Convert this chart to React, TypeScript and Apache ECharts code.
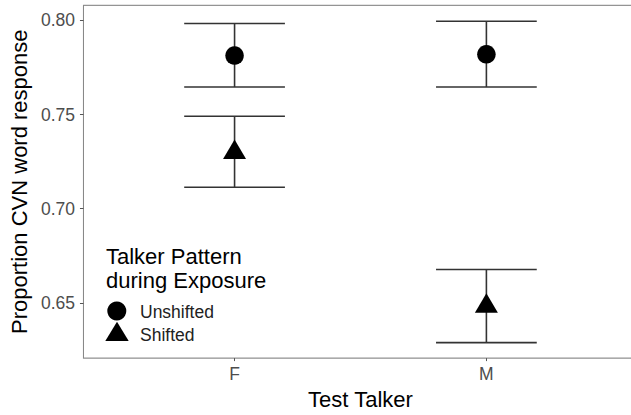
import React, { useEffect, useRef } from "react";
import * as echarts from "echarts";

const categories = ["F", "M"];
const yTicks = [0.65, 0.7, 0.75, 0.8];
const unshiftedMean = [0.7813, 0.782];
const unshiftedLow = [0.7646, 0.7646];
const unshiftedHigh = [0.7983, 0.7995];
const shiftedMean = [0.7316, 0.6499];
const shiftedLow = [0.7114, 0.6289];
const shiftedHigh = [0.7491, 0.6677];
const legendTitle = ["Talker Pattern", "during Exposure"];
const legendNames = ["Unshifted", "Shifted"];

const FONT = "'Liberation Sans', Arial, sans-serif";

export default function App() {
  const ref = useRef<HTMLDivElement>(null);
  useEffect(() => {
    if (!ref.current) return;
    const chart = echarts.init(ref.current, undefined, { renderer: "svg" });
    const errData: number[][] = [];
    categories.forEach((_, i) => {
      errData.push([i + 1, unshiftedLow[i], unshiftedHigh[i]]);
      errData.push([i + 1, shiftedLow[i], shiftedHigh[i]]);
    });
    const lineStyle = { stroke: "#333", lineWidth: 1.6 };
    chart.setOption({
      animation: false,
      textStyle: { fontFamily: FONT },
      grid: {
        left: 75.5,
        right: 12.5,
        top: 5.3,
        bottom: 48.3,
        show: true,
        borderColor: "#7a7a7a",
        borderWidth: 1,
        backgroundColor: "#fff",
      },
      xAxis: {
        type: "value",
        min: 0.4,
        max: 2.6,
        name: "Test Talker",
        nameLocation: "middle",
        nameGap: 21.5,
        nameTextStyle: { fontSize: 22, color: "#000", fontFamily: FONT },
        axisLine: { show: true, lineStyle: { color: "#aaa", width: 1.2 } },
        axisTick: { show: true, customValues: [1, 2], length: 3, lineStyle: { color: "#555" } },
        axisLabel: {
          customValues: [1, 2],
          formatter: (v: number) => categories[Math.round(v) - 1] ?? "",
          fontSize: 17.5,
          color: "#4d4d4d",
          margin: 7,
          fontFamily: FONT,
        },
        splitLine: { show: false },
      },
      yAxis: {
        type: "value",
        min: 0.6207,
        max: 0.808,
        name: "Proportion CVN word response",
        nameLocation: "middle",
        nameGap: 45,
        nameTextStyle: { fontSize: 22, color: "#000", fontFamily: FONT },
        axisLine: { show: true, lineStyle: { color: "#888", width: 1 } },
        axisTick: { show: true, customValues: yTicks, length: 3.5, lineStyle: { color: "#555" } },
        axisLabel: {
          customValues: yTicks,
          formatter: (v: number) => v.toFixed(2),
          fontSize: 17.5,
          color: "#4d4d4d",
          margin: 8.5,
          fontFamily: FONT,
        },
        splitLine: { show: false },
      },
      series: [
        {
          type: "custom",
          name: "errorbars",
          data: errData,
          renderItem: (params: any, api: any) => {
            const x = api.value(0);
            const lo = api.value(1);
            const hi = api.value(2);
            const pTop = api.coord([x, hi]);
            const pBot = api.coord([x, lo]);
            const lTop = api.coord([x - 0.2, hi]);
            const rTop = api.coord([x + 0.2, hi]);
            const lBot = api.coord([x - 0.2, lo]);
            const rBot = api.coord([x + 0.2, lo]);
            return {
              type: "group",
              children: [
                { type: "line", shape: { x1: pTop[0], y1: pTop[1], x2: pBot[0], y2: pBot[1] }, style: lineStyle },
                { type: "line", shape: { x1: lTop[0], y1: lTop[1], x2: rTop[0], y2: rTop[1] }, style: lineStyle },
                { type: "line", shape: { x1: lBot[0], y1: lBot[1], x2: rBot[0], y2: rBot[1] }, style: lineStyle },
              ],
            };
          },
          z: 1,
        },
        {
          type: "scatter",
          name: legendNames[0],
          symbol: "circle",
          symbolSize: 18.5,
          itemStyle: { color: "#000", opacity: 1 },
          data: unshiftedMean.map((v, i) => [i + 1, v]),
          z: 3,
        },
        {
          type: "scatter",
          name: legendNames[1],
          symbol: "triangle",
          symbolSize: [23, 19.5],
          itemStyle: { color: "#000", opacity: 1 },
          data: shiftedMean.map((v, i) => [i + 1, v]),
          z: 3,
        },
      ],
      graphic: [
        {
          type: "text",
          left: 106,
          top: 244,
          style: {
            text: legendTitle.join("\n"),
            fontSize: 22,
            lineHeight: 24,
            fill: "#000",
            fontFamily: FONT,
          },
        },
        {
          type: "circle",
          shape: { cx: 116.8, cy: 311, r: 9.5 },
          style: { fill: "#000" },
        },
        {
          type: "polygon",
          shape: { points: [[105.3, 341], [128.7, 341], [117, 321.7]] },
          style: { fill: "#000" },
        },
        {
          type: "text",
          x: 140,
          y: 312,
          style: { text: legendNames[0], fontSize: 17.5, fill: "#222", verticalAlign: "middle", fontFamily: FONT },
        },
        {
          type: "text",
          x: 140,
          y: 335,
          style: { text: legendNames[1], fontSize: 17.5, fill: "#222", verticalAlign: "middle", fontFamily: FONT },
        },
      ],
    });
    return () => chart.dispose();
  }, []);
  return (
    <div
      ref={ref}
      style={{ position: "fixed", left: 0, top: 0, width: 650, height: 415, background: "#fff" }}
    />
  );
}
